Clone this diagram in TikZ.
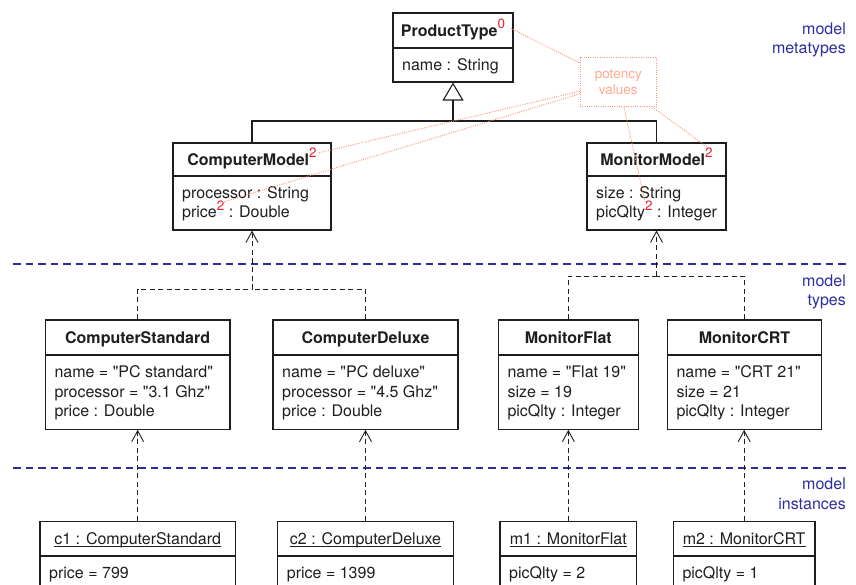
\documentclass[tikz,border=0pt]{standalone}
\usepackage{fontspec}
\setmainfont{TeX Gyre Heros}[Ligatures=TeXOff]
\usetikzlibrary{arrows.meta,fit}

\definecolor{ink}{RGB}{30,30,30}
\definecolor{supred}{RGB}{225,30,40}
\definecolor{levelblue}{RGB}{45,45,160}
\definecolor{potline}{RGB}{248,150,120}
\definecolor{pottext}{RGB}{255,170,140}

% red potency superscript
\newcommand\pot[1]{\smash{\raisebox{7.5pt}{\fontsize{13.5}{13.5}\selectfont\mdseries\textcolor{supred}{#1}}}}
% underline drawn close to the baseline
\newcommand\objname[1]{{\setbox0\hbox{#1}\rlap{\rule[-2pt]{\wd0}{0.8pt}}\box0}}

\tikzset{
  basefont/.style={font=\fontsize{16}{19.5}\selectfont},
  classframe/.style={draw=ink, line width=1.1pt, inner sep=0pt, rectangle},
  framedivider/.style={draw=ink, line width=1.1pt},
  titletext/.style={basefont, text=ink, anchor=base, inner sep=0pt},
  attrtext/.style={basefont, text=ink, anchor=base west, inner sep=0pt},
  genline/.style={draw=ink, line width=1.1pt},
  realize/.style={draw=ink, line width=0.9pt, dash pattern=on 5pt off 3.5pt},
  realhead/.style={-{Straight Barb[length=11pt, width=12pt, line width=0.9pt]}},
  levelline/.style={draw=levelblue, line width=2pt, dash pattern=on 7.5pt off 5pt},
  levellabel/.style={basefont, text=levelblue, anchor=base east, inner sep=0pt},
  potbox/.style={draw=potline, line width=0.9pt, dash pattern=on 1pt off 1.3pt,
    minimum width=76.7pt, minimum height=49pt, inner sep=0pt, align=center,
    text=pottext, font=\fontsize{13.5}{15.7}\selectfont},
  potlink/.style={draw=potline, line width=0.9pt, dash pattern=on 1pt off 1.3pt},
}

% class box: name, left, top, right, divider, bottom, title, attribute lines
\newcommand\umlclass[8]{%
  \node[classframe, fit={(#2,#3) (#4,#6)}] (#1) {};
  \draw[framedivider] (#2,#5) -- (#4,#5);
  \node[titletext] (#1-title) at ({(#2+#4)/2},{(#3+#5)/2+6}) {#7};
  \foreach \attrline [count=\k] in {#8}
    {\node[attrtext] (#1-attr\k) at ({#2+9},{#5+22.5+(\k-1)*19.5}) {\attrline};}
}

\begin{document}
\begin{tikzpicture}[x=1pt, y=-1pt]
\useasboundingbox (0,0) rectangle (856,585);
\clip (0,0) rectangle (856,585);

% level separators
\coordinate (sep1a) at (13,264);
\coordinate (sep1b) at (850,264);
\coordinate (sep2a) at (13,468);
\coordinate (sep2b) at (850,468);
\draw[levelline] (sep1a) -- (sep1b);
\draw[levelline] (sep2a) -- (sep2b);

% metatype level
\umlclass{pt}{393}{13}{513}{48}{82}{\bfseries ProductType\pot{0}}{{name : String}}
\umlclass{cm}{173}{143}{331}{176}{230}{\bfseries ComputerModel\pot{2}}%
  {{processor : String},{price\pot{2} : Double}}
\umlclass{mm}{587}{143}{726}{176}{230}{\bfseries MonitorModel\pot{2}}%
  {{size : String},{picQlty\pot{2} : Integer}}

% type level
\umlclass{cs}{45.3}{320}{230}{355}{429.3}{\bfseries ComputerStandard}%
  {{name = "PC standard"},{processor = "3.1 Ghz"},{price : Double}}
\umlclass{cd}{273}{320}{458}{355}{429.3}{\bfseries ComputerDeluxe}%
  {{name = "PC deluxe"},{processor = "4.5 Ghz"},{price : Double}}
\umlclass{mf}{498.3}{320}{638.3}{355}{429.3}{\bfseries MonitorFlat}%
  {{name = "Flat 19"},{size = 19},{picQlty : Integer}}
\umlclass{mc}{667.3}{320}{821.7}{355}{429.3}{\bfseries MonitorCRT}%
  {{name = "CRT 21"},{size = 21},{picQlty : Integer}}

% instance level
\umlclass{c1}{40}{521.5}{235.3}{556}{600}{\objname{c1 : ComputerStandard}}{{price = 799}}
\umlclass{c2}{277.7}{521.5}{453.3}{556}{600}{\objname{c2 : ComputerDeluxe}}{{price = 1399}}
\umlclass{m1}{500}{521.5}{636.7}{556}{600}{\objname{m1 : MonitorFlat}}{{picQlty = 2}}
\umlclass{m2}{673.3}{521.5}{815}{556}{600}{\objname{m2 : MonitorCRT}}{{picQlty = 1}}

% generalisation
\coordinate (gen) at (pt.south |- 0,121);
\draw[genline] (cm.north) |- (gen) -| (mm.north);
\draw[genline, -{Triangle[open, length=18pt, width=21pt, line width=1.1pt]}] (gen) -- (pt.south);

% type-to-metatype links
\coordinate (jc) at (cm.south |- 0,289);
\draw[realize] (cs.north) |- (jc);
\draw[realize] (cd.north) |- (jc);
\draw[realize, realhead] (jc) -- (cm.south);
\coordinate (jm) at (mm.south |- 0,276);
\draw[realize] (mf.north) |- (jm);
\draw[realize] (mc.north) |- (jm);
\draw[realize, realhead] (jm) -- (mm.south);

% instance-to-type links
\draw[realize, realhead] (c1.north) -- (c1.north |- cs.south);
\draw[realize, realhead] (c2.north) -- (c2.north |- cd.south);
\draw[realize, realhead] (m1.north) -- (m1.north |- mf.south);
\draw[realize, realhead] (m2.north) -- (m2.north |- mc.south);

% level labels
\node[levellabel] (lv1a) at (846,35) {model};
\node[levellabel] (lv1b) at (846,54) {metatypes};
\node[levellabel] (lv2a) at (846,286) {model};
\node[levellabel] (lv2b) at (846,305) {types};
\node[levellabel] (lv3a) at (846,489) {model};
\node[levellabel] (lv3b) at (846,509) {instances};

% potency note
\node[potbox] (pv) at (618.3,82.2) {potency\\values};
\coordinate (sup-pt) at (510,28);
\coordinate (sup-cm) at (318,153);
\coordinate (sup-price) at (220,203);
\coordinate (sup-pic) at (645,202);
\coordinate (sup-mm) at (707,147);
\draw[potlink] (pv) -- (sup-pt);
\draw[potlink] (pv) -- (sup-cm);
\draw[potlink] (pv) -- (sup-price);
\draw[potlink] (pv) -- (sup-pic);
\draw[potlink] (pv) -- (sup-mm);
\end{tikzpicture}
\end{document}
